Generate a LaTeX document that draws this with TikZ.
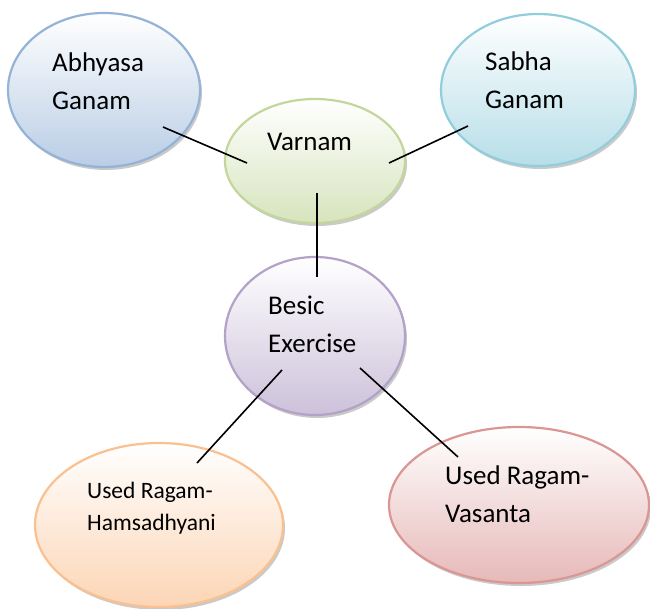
\documentclass[tikz,border=0pt]{standalone}
\usepackage{fontspec}
\setmainfont{Carlito}
\usetikzlibrary{shapes.geometric,shadows}
\definecolor{abhline}{HTML}{95B3D7}\definecolor{abhfill}{HTML}{B9CDE5}
\definecolor{sabline}{HTML}{92CDDC}\definecolor{sabfill}{HTML}{B7DEE8}
\definecolor{varline}{HTML}{C3D69B}\definecolor{varfill}{HTML}{D7E4BD}
\definecolor{besline}{HTML}{B3A2C7}\definecolor{besfill}{HTML}{CCC1DA}
\definecolor{hamline}{HTML}{FAC090}\definecolor{hamfill}{HTML}{FCD5B5}
\definecolor{vasline}{HTML}{D99694}\definecolor{vasfill}{HTML}{E6B9B8}
\tikzset{
  bubble/.style={ellipse, line width=2.2pt, inner sep=0pt, top color=white,
    drop shadow={shadow xshift=2pt, shadow yshift=-3pt, fill=black!35, opacity=0.6}},
  txt/.style={anchor=west, align=left, inner sep=0pt, font=\fontsize{27}{38}\selectfont},
  stxt/.style={txt, font=\fontsize{23.5}{32}\selectfont},
  link/.style={line width=1.6pt}
}

\begin{document}
\begin{tikzpicture}[x=1pt, y=-1pt]
			%%%%% START %%%%%
			\useasboundingbox (0, 0) rectangle (650, 609);
			
			\node[bubble, draw=abhline, bottom color=abhfill, minimum width=192pt, minimum height=154pt] (abh) at (104, 90) {};
			\node[bubble, draw=sabline, bottom color=sabfill, minimum width=194pt, minimum height=152pt] (sab) at (538, 90) {};
			\node[bubble, draw=varline, bottom color=varfill, minimum width=180pt, minimum height=124pt] (var) at (315, 161) {};
			\node[bubble, draw=besline, bottom color=besfill, minimum width=180pt, minimum height=158pt] (bes) at (315, 336) {};
			\node[bubble, draw=hamline, bottom color=hamfill, minimum width=248pt, minimum height=164pt] (ham) at (159, 525) {};
			\node[bubble, draw=vasline, bottom color=vasfill, minimum width=260pt, minimum height=156pt] (vas) at (519, 505) {};
			
			\node[txt] (abhText) at (52, 81) {Abhyasa\\Ganam};
			\node[txt] (sabText) at (485, 80) {Sabha\\Ganam};
			\node[txt] (varText) at (267, 142) {Varnam};
			\node[txt] (besText) at (268, 324) {Besic\\Exercise};
			\node[stxt] (hamText) at (87, 508) {Used Ragam-\\Hamsadhyani};
			\node[txt] (vasText) at (445, 494) {Used Ragam-\\Vasanta};
			
			% line ends sit inside the bubbles
			\coordinate (abhEnd) at (163, 127);
			\coordinate (varWest) at (247, 163);
			\coordinate (sabEnd) at (468, 126);
			\coordinate (varEast) at (389, 163);
			\coordinate (varSouth) at (317, 193);
			\coordinate (besNorth) at (317, 277);
			\coordinate (besWest) at (282, 370);
			\coordinate (hamEnd) at (197, 463);
			\coordinate (besEast) at (360, 368);
			\coordinate (vasEnd) at (458, 457);
			
			\draw[link] (abhEnd) -- (varWest);
			\draw[link] (sabEnd) -- (varEast);
			\draw[link] (varSouth) -- (besNorth);
			\draw[link] (besWest) -- (hamEnd);
			\draw[link] (besEast) -- (vasEnd);
			
			%%%%% END %%%%%
\end{tikzpicture}
\end{document}
